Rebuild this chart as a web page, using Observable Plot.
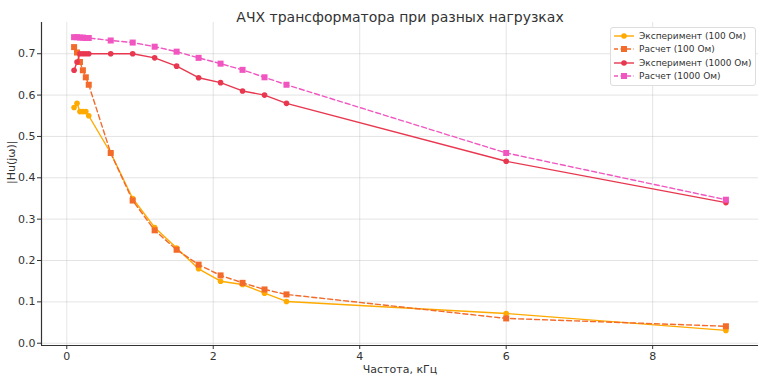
<!DOCTYPE html>
<html><head><meta charset="utf-8">
<script src="https://cdn.jsdelivr.net/npm/d3@7"></script>
<script src="https://cdn.jsdelivr.net/npm/@observablehq/plot@0.6"></script>
<style>
body{margin:0;background:#fff;font-family:"DejaVu Sans",sans-serif;}
#wrap{position:relative;width:764px;height:379px;}
#legend{position:absolute;left:610px;top:27px;width:146px;box-sizing:border-box;background:#fff;border:1px solid #ddd;border-radius:3px;padding:1px 0 2px 0;font-size:9px;color:#333;white-space:nowrap;}
#legend .row{display:flex;align-items:center;height:13.5px;}
#legend svg{margin:0 5px 0 3px;flex:none;}
</style></head>
<body><div id="wrap"><div id="chart"></div><div id="legend"></div></div>
<script>
const title = "АЧХ трансформатора при разных нагрузках";
const xLabel = "Частота, кГц";
const yLabel = "|Hu(jω)|";
const freqs = [0.1, 0.14, 0.18, 0.22, 0.26, 0.3, 0.6, 0.9, 1.2, 1.5, 1.8, 2.1, 2.4, 2.7, 3.0, 6.0, 9.0];
const exp100  = [0.57, 0.58, 0.56, 0.56, 0.56, 0.55, 0.46, 0.35, 0.28, 0.23, 0.18, 0.15, 0.142, 0.121, 0.101, 0.072, 0.031];
const calc100 = [0.716, 0.703, 0.68, 0.66, 0.643, 0.625, 0.46, 0.345, 0.273, 0.226, 0.19, 0.164, 0.146, 0.13, 0.118, 0.06, 0.041];
const exp1000 = [0.66, 0.68, 0.70, 0.70, 0.70, 0.70, 0.70, 0.70, 0.69, 0.67, 0.642, 0.63, 0.61, 0.60, 0.58, 0.44, 0.34];
const calc1000= [0.74, 0.74, 0.739, 0.739, 0.738, 0.738, 0.732, 0.727, 0.717, 0.705, 0.69, 0.676, 0.661, 0.643, 0.625, 0.46, 0.347];
const seriesNames = ["Эксперимент (100 Ом)", "Расчет (100 Ом)", "Эксперимент (1000 Ом)", "Расчет (1000 Ом)"];
const seriesValues = [exp100, calc100, exp1000, calc1000];
const seriesColors = ["#ffaa00", "#f26b2a", "#e8374f", "#f055c0"];
const seriesDashed = [false, true, false, true];
const seriesSymbol = ["circle", "square", "circle", "square"];
const xTicks = [0, 2, 4, 6, 8];
const yTicks = [0, 0.1, 0.2, 0.3, 0.4, 0.5, 0.6, 0.7];
const xDomain = [-0.345, 9.445];
const yDomain = [-0.0055, 0.7755];

const marks = [
  Plot.gridX(xTicks, {stroke: "#bbb", strokeOpacity: 0.5, strokeWidth: 0.8}),
  Plot.gridY(yTicks, {stroke: "#bbb", strokeOpacity: 0.5, strokeWidth: 0.8}),
  Plot.axisX(xTicks, {tickSize: 4, tickPadding: 3, fontSize: 11, color: "#333", label: null}),
  Plot.axisY(yTicks, {tickSize: 4, tickPadding: 2, fontSize: 11, color: "#333", tickFormat: d3.format(".1f"), label: null}),
  Plot.ruleX([xDomain[0]], {stroke: "#333", strokeWidth: 1.2}),
  Plot.ruleY([yDomain[0]], {stroke: "#333", strokeWidth: 1.2}),
];
seriesNames.forEach((name, i) => {
  const rows = freqs.map((f, j) => ({f, v: seriesValues[i][j]}));
  marks.push(Plot.line(rows, {x: "f", y: "v", stroke: seriesColors[i], strokeWidth: 1.4, strokeDasharray: seriesDashed[i] ? "5,3" : null}));
  marks.push(Plot.dot(rows, {x: "f", y: "v", fill: seriesColors[i], stroke: "none", symbol: seriesSymbol[i], r: seriesSymbol[i] === "square" ? 3.4 : 2.8}));
});
marks.push(Plot.text([title], {frameAnchor: "top", dy: -10, fontSize: 14, fill: "#333", text: d => d}));
marks.push(Plot.text([xLabel], {frameAnchor: "bottom", dy: 27, fontSize: 11, fill: "#333", text: d => d}));
marks.push(Plot.text([yLabel], {frameAnchor: "left", dx: -30, rotate: -90, fontSize: 11, fill: "#333", text: d => d}));

const plot = Plot.plot({
  width: 764, height: 379,
  marginLeft: 41, marginRight: 6, marginTop: 22, marginBottom: 34,
  style: {fontFamily: "DejaVu Sans", background: "#fff", overflow: "visible"},
  x: {domain: xDomain, axis: null},
  y: {domain: yDomain, axis: null},
  marks
});
document.getElementById("chart").appendChild(plot);

const leg = document.getElementById("legend");
seriesNames.forEach((name, i) => {
  const row = document.createElement("div");
  row.className = "row";
  const c = seriesColors[i];
  const mk = seriesSymbol[i] === "square"
    ? `<rect x="7" y="4" width="6" height="6" fill="${c}"/>`
    : `<circle cx="10" cy="7" r="2.8" fill="${c}"/>`;
  row.innerHTML = `<svg width="20" height="14"><line x1="0" x2="20" y1="7" y2="7" stroke="${c}" stroke-width="1.4" ${seriesDashed[i] ? 'stroke-dasharray="4,2.5"' : ''}/>${mk}</svg><span>${name}</span>`;
  leg.appendChild(row);
});
</script></body></html>
